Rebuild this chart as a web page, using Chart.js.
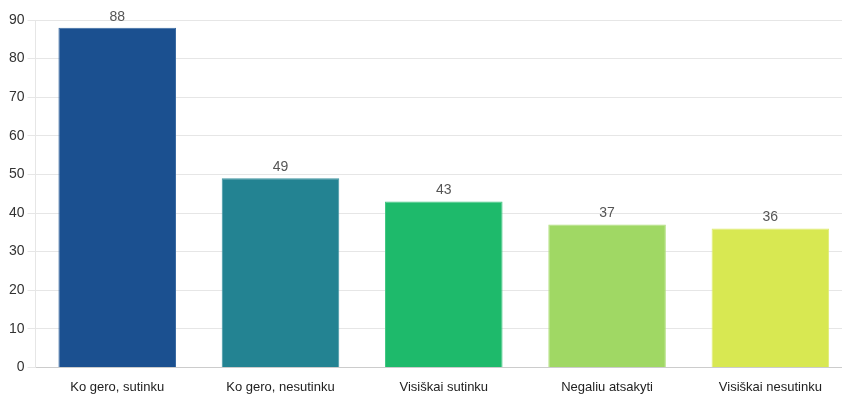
<!DOCTYPE html>
<html>
<head>
<meta charset="utf-8">
<script src="https://cdn.jsdelivr.net/npm/chart.js@4"></script>
<style>
  html, body { margin: 0; padding: 0; background: #fff; overflow: hidden; }
  #wrap { width: 856px; height: 407px; }
</style>
</head>
<body>
<div id="wrap"><canvas id="chart"></canvas></div>
<script>
const categories = ['Ko gero, sutinku', 'Ko gero, nesutinku', 'Visiškai sutinku', 'Negaliu atsakyti', 'Visiškai nesutinku'];
const values = [88, 49, 43, 37, 36];
const barColors = ['#1b5090', '#238392', '#1eba6b', '#a0d864', '#d8e852'];
const borderColors = ['#3a6aa2', '#4096a2', '#42c783', '#b2df7e', '#e0ec72'];

// draw the value above each bar
const valueLabels = {
  id: 'valueLabels',
  afterDatasetsDraw(chart) {
    const ctx = chart.ctx;
    const meta = chart.getDatasetMeta(0);
    ctx.save();
    ctx.font = '14px "Liberation Sans", Arial, sans-serif';
    ctx.fillStyle = '#555';
    ctx.textAlign = 'center';
    ctx.textBaseline = 'bottom';
    meta.data.forEach((bar, i) => {
      ctx.fillText(values[i], bar.x, bar.y - 4);
    });
    ctx.restore();
  }
};

new Chart(document.getElementById('chart'), {
  type: 'bar',
  data: {
    labels: categories,
    datasets: [{
      data: values,
      backgroundColor: barColors,
      borderColor: borderColors,
      borderWidth: 1
    }]
  },
  options: {
    responsive: true,
    maintainAspectRatio: false,
    animation: false,
    layout: { padding: { top: 20, left: 6, right: 4, bottom: 0 } },
    plugins: {
      legend: { display: false },
      tooltip: { enabled: false }
    },
    scales: {
      x: {
        grid: { display: false, drawTicks: false },
        border: { color: '#ccc' },
        ticks: {
          color: '#222',
          font: { family: '"Liberation Sans", Arial, sans-serif', size: 13 },
          padding: 12
        }
      },
      y: {
        min: 0,
        max: 90,
        grid: { color: '#e6e6e6', tickLength: 8 },
        border: { color: '#e6e6e6' },
        ticks: {
          stepSize: 10,
          color: '#333',
          font: { family: '"Liberation Sans", Arial, sans-serif', size: 14 },
          padding: 3
        }
      }
    }
  },
  plugins: [valueLabels]
});
</script>
</body>
</html>
